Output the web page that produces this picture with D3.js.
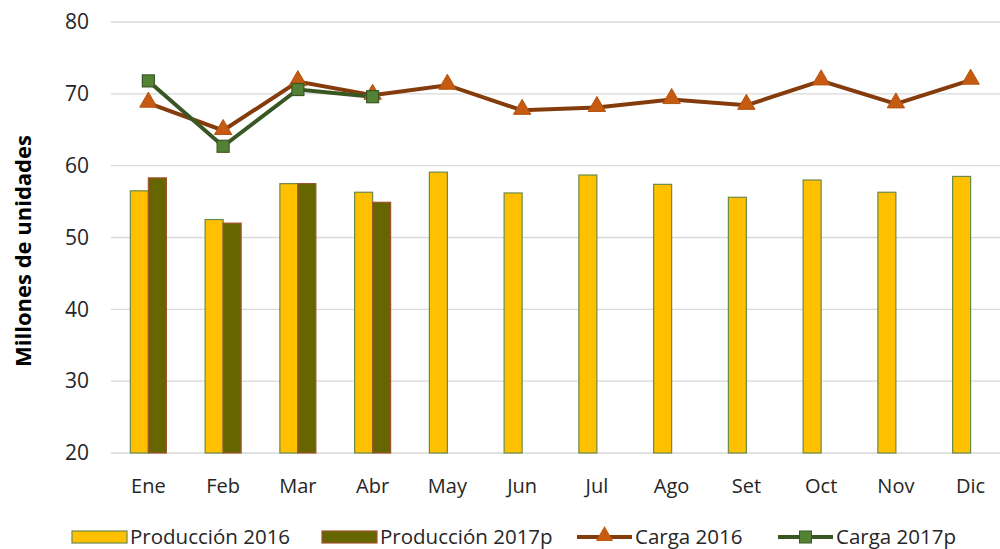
<!DOCTYPE html>
<html>
<head>
<meta charset="utf-8">
<script src="https://cdn.jsdelivr.net/npm/d3@7"></script>
<style>
  body { margin: 0; background: #fff; }
  text { font-family: "Open Sans", "Noto Sans", sans-serif; fill: #262626; }
</style>
</head>
<body>
<svg class="chart"></svg>
<script>
// chart size
var width = 1000;
var height = 549;
var margin = {top: 22, right: -8, bottom: 96, left: 111};
var w = width - margin.left - margin.right;
var h = height - margin.top - margin.bottom;

// data
var months = ["Ene", "Feb", "Mar", "Abr", "May", "Jun", "Jul", "Ago", "Set", "Oct", "Nov", "Dic"];
var prod2016 = [56.5, 52.5, 57.5, 56.3, 59.1, 56.2, 58.7, 57.4, 55.6, 58.0, 56.3, 58.5];
var prod2017 = [58.3, 52.0, 57.5, 54.9];
var carga2016 = [68.7, 64.9, 71.7, 69.8, 71.2, 67.7, 68.1, 69.2, 68.4, 71.8, 68.6, 71.9];
var carga2017 = [71.8, 62.7, 70.6, 69.6];
var yTicks = [20, 30, 40, 50, 60, 70, 80];
var seriesNames = ["Producción 2016", "Producción 2017p", "Carga 2016", "Carga 2017p"];

var svg = d3.select(".chart")
    .attr("width", width)
    .attr("height", height);

var chart = svg.append("g")
    .attr("transform", "translate(" + margin.left + "," + margin.top + ")");

var x = d3.scaleBand()
    .domain(months)
    .range([0, w]);

var xInner = d3.scaleBand()
    .domain([0, 1])
    .range([0, 36])
    .padding(0);

var y = d3.scaleLinear()
    .domain([20, 80])
    .range([h, 0]);

// gridlines
chart.selectAll(".grid")
    .data(yTicks)
    .enter().append("line")
    .attr("x1", 0)
    .attr("x2", w)
    .attr("y1", function(d) { return y(d); })
    .attr("y2", function(d) { return y(d); })
    .style("stroke", "#d9d9d9")
    .style("stroke-width", 1.3);

// y axis
var yAxis = d3.axisLeft(y).tickValues(yTicks).tickSize(0).tickPadding(22);
chart.append("g")
    .call(yAxis)
    .call(function(g) { g.select(".domain").remove(); })
    .selectAll("text")
    .style("font-size", "21px")
    .style("fill", "#262626");

// x axis
var xAxis = d3.axisBottom(x).tickSize(0).tickPadding(26);
chart.append("g")
    .attr("transform", "translate(0," + h + ")")
    .call(xAxis)
    .call(function(g) { g.select(".domain").remove(); })
    .selectAll("text")
    .style("font-size", "20px")
    .style("fill", "#262626");

// y axis label
svg.append("text")
    .attr("transform", "translate(31,251) rotate(-90)")
    .style("text-anchor", "middle")
    .style("font-size", "22px")
    .style("font-weight", "bold")
    .style("fill", "#000")
    .text("Millones de unidades");

// bars
chart.selectAll(".bar2016")
    .data(prod2016)
    .enter().append("rect")
    .attr("x", function(d, i) { return x(months[i]) + x.bandwidth() / 2 - 18 + xInner(0); })
    .attr("y", function(d) { return y(d); })
    .attr("width", xInner.bandwidth())
    .attr("height", function(d) { return h - y(d); })
    .style("fill", "#ffc000")
    .style("stroke", "#6b8a4a")
    .style("stroke-width", 1.2);

chart.selectAll(".bar2017")
    .data(prod2017)
    .enter().append("rect")
    .attr("x", function(d, i) { return x(months[i]) + x.bandwidth() / 2 - 18 + xInner(1); })
    .attr("y", function(d) { return y(d); })
    .attr("width", xInner.bandwidth())
    .attr("height", function(d) { return h - y(d); })
    .style("fill", "#666600")
    .style("stroke", "#a0522d")
    .style("stroke-width", 1.2);

// lines
var line = d3.line()
    .x(function(d, i) { return x(months[i]) + x.bandwidth() / 2; })
    .y(function(d) { return y(d); });

chart.append("path")
    .datum(carga2016)
    .attr("d", line)
    .style("fill", "none")
    .style("stroke", "#843c0c")
    .style("stroke-width", 4);

chart.append("path")
    .datum(carga2017)
    .attr("d", line)
    .style("fill", "none")
    .style("stroke", "#385723")
    .style("stroke-width", 4);

var tri = d3.symbol().type(d3.symbolTriangle).size(130);

chart.selectAll(".tri")
    .data(carga2016)
    .enter().append("path")
    .attr("d", tri)
    .attr("transform", function(d, i) { return "translate(" + (x(months[i]) + x.bandwidth() / 2) + "," + (y(d) - 1) + ")"; })
    .style("fill", "#c55a11")
    .style("stroke", "#b5520f")
    .style("stroke-width", 1);

chart.selectAll(".sq")
    .data(carga2017)
    .enter().append("rect")
    .attr("x", function(d, i) { return x(months[i]) + x.bandwidth() / 2 - 6; })
    .attr("y", function(d) { return y(d) - 6; })
    .attr("width", 12)
    .attr("height", 12)
    .style("fill", "#548235")
    .style("stroke", "#385723")
    .style("stroke-width", 1.2);

// legend
var legendY = 537;
var legendX = [72, 322, 577, 778];
var legend = svg.selectAll(".legend")
    .data(seriesNames)
    .enter().append("g")
    .attr("transform", function(d, i) { return "translate(" + legendX[i] + "," + legendY + ")"; });

legend.each(function(d, i) {
    var g = d3.select(this);
    if (i < 2) {
        g.append("rect")
            .attr("x", 0).attr("y", -6)
            .attr("width", 55).attr("height", 12)
            .style("fill", i === 0 ? "#ffc000" : "#666600")
            .style("stroke", i === 0 ? "#6b8a4a" : "#a0522d")
            .style("stroke-width", 1.2);
    } else {
        g.append("line")
            .attr("x1", 0).attr("x2", 55)
            .attr("y1", 0).attr("y2", 0)
            .style("stroke", i === 2 ? "#843c0c" : "#385723")
            .style("stroke-width", 4);
        if (i === 2) {
            g.append("path")
                .attr("d", tri)
                .attr("transform", "translate(27.5,-1)")
                .style("fill", "#c55a11");
        } else {
            g.append("rect")
                .attr("x", 21.5).attr("y", -6)
                .attr("width", 12).attr("height", 12)
                .style("fill", "#548235")
                .style("stroke", "#385723");
        }
    }
    g.append("text")
        .attr("x", 58)
        .attr("y", 0)
        .attr("dy", "0.35em")
        .style("font-size", "20.5px")
        .text(d);
});
</script>
</body>
</html>
